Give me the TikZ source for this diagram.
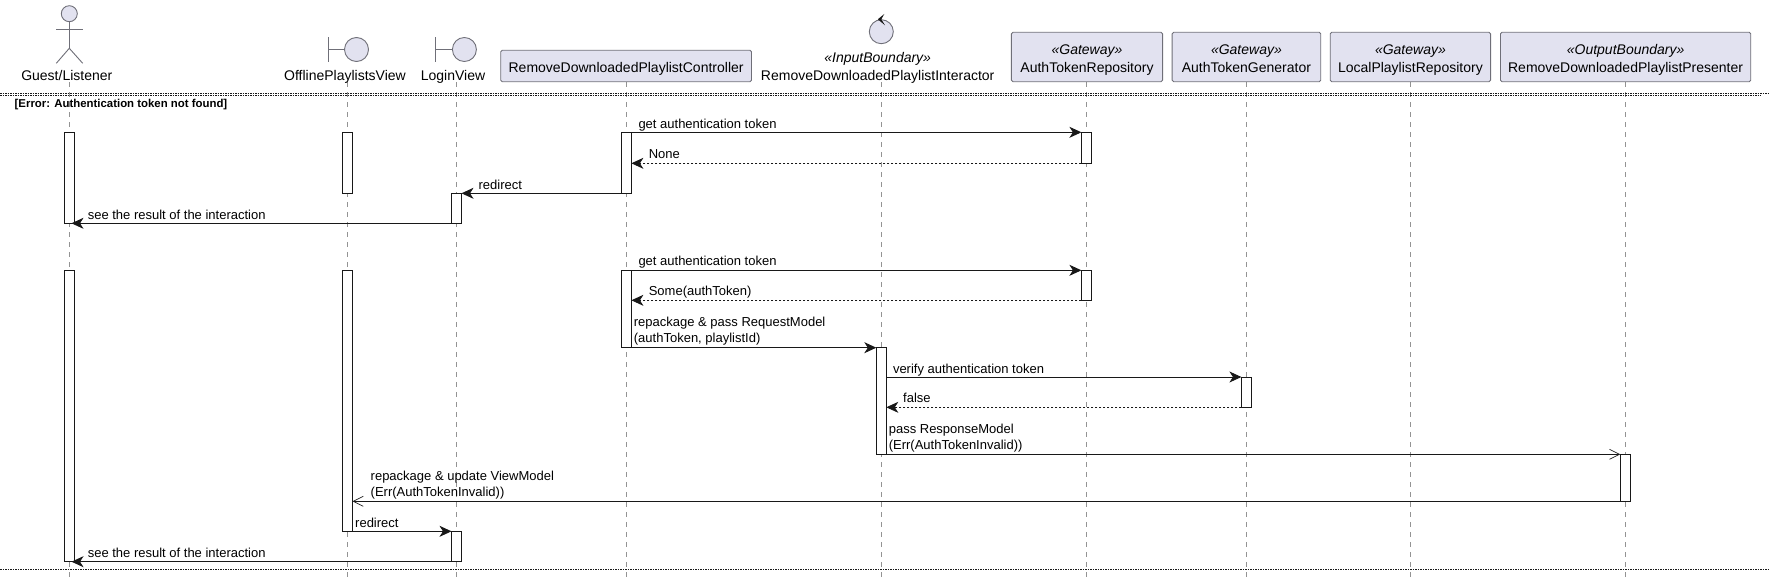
\documentclass[tikz,border=0pt]{standalone}
\usepackage{fontspec}
\usepackage{xcolor}
\usetikzlibrary{arrows.meta}
\setmainfont{Liberation Sans}
\definecolor{partfill}{HTML}{E2E2F0}
\definecolor{partline}{HTML}{6F6F78}
\definecolor{inkline}{HTML}{181818}
\tikzset{
  parttext/.style={inner sep=0pt, align=center, font=\fontsize{14}{17.7}\selectfont, execute at begin node=\rule{0pt}{15.2pt}, execute at end node=\rule[-3.2pt]{0pt}{3.2pt}},
  twoline/.style={execute at begin node=\rule{0pt}{33.2pt}},
  partbox/.style={parttext, draw=partline, fill=partfill, rounded corners=1.5pt, line width=0.9pt},
  partname/.style={parttext},
  figure/.style={draw=partline, line width=0.9pt},
  lifeline/.style={draw=gray!85, line width=0.8pt, dash pattern=on 5pt off 5pt},
  actbar/.style={draw=inkline, fill=white, line width=0.9pt, minimum width=10pt, inner sep=0pt, outer sep=0pt, anchor=north},
  msg/.style={draw=inkline, line width=0.9pt, -{Stealth[length=12pt,width=11pt,inset=3.5pt]}},
  msgback/.style={msg, dash pattern=on 2pt off 2pt},
  msgopen/.style={draw=inkline, line width=0.9pt, -{Straight Barb[length=10pt,width=10pt,line width=0.7pt]}},
  msglabel/.style={inner sep=0pt, anchor=base west, align=left, font=\fontsize{13}{16}\selectfont},
  separator/.style={draw=inkline, line width=0.6pt, dash pattern=on 1.5pt off 1pt}
}
\begin{document}
\begin{tikzpicture}[x=1pt, y=-1pt]
\useasboundingbox (0,0) rectangle (1776,586);
% Lignes de vie
\foreach \who/\x in {guest/69.3, offline/347.5, login/456.5, ctrl/626.2, inter/881.3, repo/1086.6, gen/1246.4, local/1410.5, pres/1625.3} {
  \coordinate (\who top) at (\x,82);
  \coordinate (\who end) at (\x,578);
  \draw[lifeline] (\who top) -- (\who end);
}
% Separateurs
\coordinate (sepAa) at (0,93.3);
\coordinate (sepAb) at (1770,93.3);
\coordinate (sepBa) at (0,95.7);
\coordinate (sepBb) at (1761,95.7);
\coordinate (sepCa) at (0,569.3);
\coordinate (sepCb) at (1770,569.3);
\draw[separator] (sepAa) -- (sepAb);
\draw[separator] (sepBa) -- (sepBb);
\draw[separator] (sepCa) -- (sepCb);
\node[inner sep=0pt, anchor=base west, font=\bfseries\fontsize{11.4}{13}\selectfont] (errlabel) at (14.5,107) {[Error: Authentication token not found]};
% Acteur
\draw[figure, fill=partfill] (69.3,13.7) circle (8pt);
\draw[figure] (69.3,21.7) -- (69.3,48.3);
\draw[figure] (56.3,29.3) -- (82.7,29.3);
\draw[figure] (56.3,63.3) -- (69.3,48.3) -- (82.7,63.3);
\node[partname] (guestname) at (66.8,74) {Guest/Listener};
% Vues
\draw[figure] (328,37.3) -- (328,61.7);
\draw[figure] (328,49.5) -- (344.5,49.5);
\draw[figure, fill=partfill] (356.5,49.5) circle (12pt);
\node[partname] (offlinename) at (345,74) {OfflinePlaylistsView};
\draw[figure] (435.5,37.3) -- (435.5,61.7);
\draw[figure] (435.5,49.5) -- (452.4,49.5);
\draw[figure, fill=partfill] (464.4,49.5) circle (12pt);
\node[partname] (loginname) at (453,74) {LoginView};
% Controle
\draw[figure, fill=partfill] (881.3,31.7) circle (12pt);
\fill[inkline] (877.8,19.3) -- (884.3,14) -- (881.3,19.3) -- (885,25.3) -- cycle;
\node[partname, twoline] (intername) at (877.7,65) {\textit{«InputBoundary»}\\RemoveDownloadedPlaylistInteractor};
% Boites
\node[partbox, minimum width=250.8pt, minimum height=31.4pt] (ctrlbox) at (626.1,66) {RemoveDownloadedPlaylistController};
\node[partbox, twoline, minimum width=151.2pt, minimum height=49.4pt] (repobox) at (1087,57) {\textit{«Gateway»}\\AuthTokenRepository};
\node[partbox, twoline, minimum width=148.6pt, minimum height=49.4pt] (genbox) at (1246.4,57) {\textit{«Gateway»}\\AuthTokenGenerator};
\node[partbox, twoline, minimum width=160.4pt, minimum height=49.4pt] (localbox) at (1410.4,57) {\textit{«Gateway»}\\LocalPlaylistRepository};
\node[partbox, twoline, minimum width=250.3pt, minimum height=49.4pt] (presbox) at (1625.6,57) {\textit{«OutputBoundary»}\\RemoveDownloadedPlaylistPresenter};
% Barres du premier cas
\node[actbar, minimum height=91pt] (guestA) at (69.5,132.3) {};
\node[actbar, minimum height=61pt] (offlineA) at (347.5,132.3) {};
\node[actbar, minimum height=30pt] (loginA) at (456.5,193.3) {};
\node[actbar, minimum height=61pt] (ctrlA) at (626.4,132.3) {};
\node[actbar, minimum height=31pt] (repoA) at (1086.4,132.3) {};
% Barres du second cas
\node[actbar, minimum height=291.4pt] (guestB) at (69.5,270.3) {};
\node[actbar, minimum height=261pt] (offlineB) at (347.5,270.3) {};
\node[actbar, minimum height=30.4pt] (loginB) at (456.5,531.3) {};
\node[actbar, minimum height=77.4pt] (ctrlB) at (626.4,270.3) {};
\node[actbar, minimum height=30pt] (repoB) at (1086.4,270.3) {};
\node[actbar, minimum height=106.6pt] (interB) at (881.3,347.7) {};
\node[actbar, minimum height=30.3pt] (genB) at (1246.4,377) {};
\node[actbar, minimum height=47pt] (presB) at (1625.3,454.3) {};
% Messages du premier cas
\draw[msg] (ctrlA.north east) -- (repoA.north west);
\node[msglabel] (getA) at (638.3,128.2) {get authentication token};
\draw[msgback] (repoA.south west) -- (ctrlA.east |- repoA.south west);
\node[msglabel] (noneA) at (648.6,158.2) {None};
\draw[msg] (ctrlA.south west) -- (loginA.north east);
\node[msglabel] (redirA) at (478.4,189.5) {redirect};
\draw[msg, shorten >=-3pt] (loginA.south west) -- (guestA.south east);
\node[msglabel] (seeA) at (87.6,219.5) {see the result of the interaction};
% Messages du second cas
\draw[msg] (ctrlB.north east) -- (repoB.north west);
\node[msglabel] (getB) at (638.3,265.2) {get authentication token};
\draw[msgback] (repoB.south west) -- (ctrlB.east |- repoB.south west);
\node[msglabel] (someB) at (648.6,295.8) {Some(authToken)};
\draw[msg] (ctrlB.south east) -- (interB.north west);
\node[msglabel] (packB) at (633.7,342.2) {repackage \& pass RequestModel\\(authToken, playlistId)};
\draw[msg] (interB.east |- genB.north west) -- (genB.north west);
\node[msglabel] (verB) at (892.8,373.2) {verify authentication token};
\draw[msgback] (genB.south west) -- (interB.east |- genB.south west);
\node[msglabel] (falseB) at (903,402.8) {false};
\draw[msgopen] (interB.south east) -- (presB.north west);
\node[msglabel] (passB) at (888.6,449.8) {pass ResponseModel\\(Err(AuthTokenInvalid))};
\draw[msgopen] (presB.south west) -- (offlineB.east |- presB.south west);
\node[msglabel] (updB) at (370.5,496.2) {repackage \& update ViewModel\\(Err(AuthTokenInvalid))};
\draw[msg] (offlineB.south east) -- (loginB.north west);
\node[msglabel] (redirB) at (355,527.2) {redirect};
\draw[msg, shorten >=-3pt] (loginB.south west) -- (guestB.south east);
\node[msglabel] (seeB) at (87.6,557.2) {see the result of the interaction};
\end{tikzpicture}
\end{document}
